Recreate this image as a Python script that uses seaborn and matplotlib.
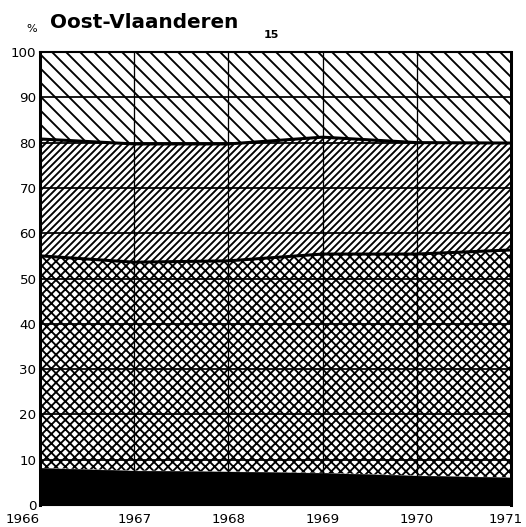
import matplotlib

matplotlib.use("Agg")

import matplotlib.pyplot as plt
import matplotlib.transforms as mtransforms
import numpy as np
import pandas as pd
import seaborn as sns

# values (cumulative %, bottom to top)
years = [1966, 1967, 1968, 1969, 1970, 1971]
black_top = [8.2, 7.6, 7.4, 7.1, 6.5, 6.1]
cross_top = [55.0, 53.6, 53.9, 55.4, 55.4, 56.3]
diag_top = [80.8, 79.7, 79.7, 81.2, 80.0, 79.9]
total_top = [100, 100, 100, 100, 100, 100]
y_ticks = [0, 10, 20, 30, 40, 50, 60, 70, 80, 90, 100]

DPI = 84
sns.set_style("white")
plt.rcParams["font.family"] = ["DejaVu Sans"]
plt.rcParams["hatch.linewidth"] = 1.6
plt.rcParams["hatch.color"] = "black"
plt.rcParams["text.color"] = "black"
plt.rcParams["xtick.color"] = "black"
plt.rcParams["ytick.color"] = "black"

frame = pd.DataFrame(
    {
        "year": years,
        "black": black_top,
        "cross": cross_top,
        "diag": diag_top,
        "total": total_top,
    }
)

fig = plt.figure(figsize=(526 / DPI, 527 / DPI), dpi=DPI)
ax = fig.add_axes([40 / 526, 1 - 505 / 527, 471 / 526, 453 / 527])

base = np.zeros(len(years))
ax.fill_between(frame["year"], base, frame["black"], facecolor="black", edgecolor="black", lw=0.5, zorder=1)
ax.fill_between(frame["year"], frame["black"], frame["cross"], facecolor="white", hatch="xxx", edgecolor="black", lw=0, zorder=1)
ax.fill_between(frame["year"], frame["cross"], frame["diag"], facecolor="white", hatch="////", edgecolor="black", lw=0, zorder=1)
ax.fill_between(frame["year"], frame["diag"], frame["total"], facecolor="white", hatch="\\\\", edgecolor="black", lw=0, zorder=1)

for col in ["cross", "diag"]:
    sns.lineplot(data=frame, x="year", y=col, color="black", linewidth=2.6, ax=ax, zorder=4)

for v in y_ticks[1:]:
    ax.axhline(v, color="black", lw=1.5, zorder=3)
for yr in years[1:-1]:
    ax.axvline(yr, color="black", lw=1.1, zorder=3)

ax.set_xlim(years[0], years[-1])
ax.set_ylim(0, 100)
ax.set_xticks(years)
ax.set_yticks(y_ticks)
ax.set_xticklabels([str(y) for y in years], fontsize=11.5)
ax.set_yticklabels([str(v) for v in y_ticks], fontsize=11.5)
ax.tick_params(axis="x", direction="out", length=6, width=2, pad=1, color="black")
ax.tick_params(axis="y", length=0, pad=3)
ax.set_xlabel("")
ax.set_ylabel("")

# end labels are nudged inwards/outwards as in the original
labels = ax.get_xticklabels()
labels[0].set_transform(labels[0].get_transform() + mtransforms.ScaledTranslation(-17 / DPI, 0, fig.dpi_scale_trans))
labels[-1].set_transform(labels[-1].get_transform() + mtransforms.ScaledTranslation(-5 / DPI, 0, fig.dpi_scale_trans))

for side in ["left", "right"]:
    ax.spines[side].set_linewidth(2.6)
for side in ["top", "bottom"]:
    ax.spines[side].set_linewidth(1.8)
for sp in ax.spines.values():
    sp.set_color("black")
    sp.set_zorder(5)

fig.text(50 / 526, 1 - 22 / 527, "Oost-Vlaanderen", fontsize=17.2, fontweight="bold", va="center", ha="left")
fig.text(26 / 526, 1 - 29 / 527, "%", fontsize=9.5, va="center", ha="left")
fig.text(264 / 526, 1 - 35 / 527, "15", fontsize=9.5, fontweight="bold", va="center", ha="left")

fig.savefig("out.png", dpi=DPI)
